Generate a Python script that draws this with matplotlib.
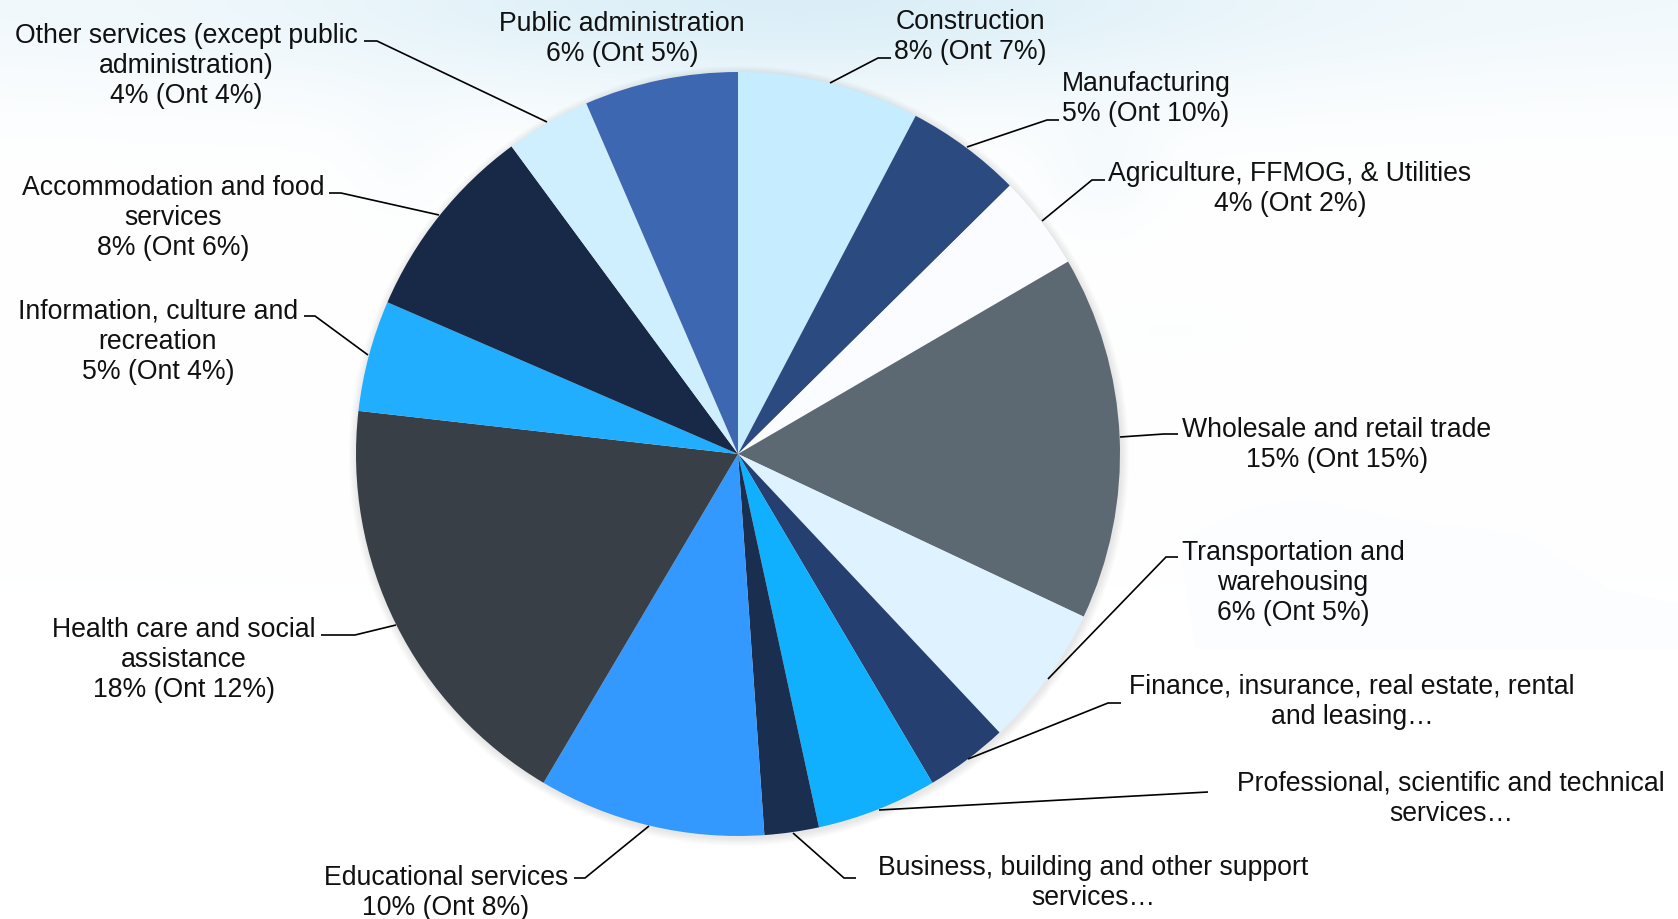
import numpy as np
import matplotlib
matplotlib.use("Agg")
import matplotlib.pyplot as plt
from matplotlib.patches import Circle, Polygon

plt.rcParams['font.family'] = ['Liberation Sans', 'DejaVu Sans']

categories = ["Construction", "Manufacturing", "Agriculture, FFMOG, & Utilities",
              "Wholesale and retail trade", "Transportation and\nwarehousing",
              "Finance, insurance, real estate, rental\nand leasing…",
              "Professional, scientific and technical\nservices…",
              "Business, building and other support\nservices…",
              "Educational services", "Health care and social\nassistance",
              "Information, culture and\nrecreation", "Accommodation and food\nservices",
              "Other services (except public\nadministration)", "Public administration"]
shares = [7.7, 4.9, 4.0, 15.4, 6.0, 3.5, 5.1, 2.3, 9.6, 18.3, 4.7, 8.4, 3.6, 6.5]
value_lines = ["8% (Ont 7%)", "5% (Ont 10%)", "4% (Ont 2%)", "15% (Ont 15%)", "6% (Ont 5%)",
               "", "", "", "10% (Ont 8%)", "18% (Ont 12%)", "5% (Ont 4%)", "8% (Ont 6%)",
               "4% (Ont 4%)", "6% (Ont 5%)"]
colors = ["#C6ECFF", "#2B4A80", "#FBFCFF", "#5D6972", "#DFF2FF", "#253F70", "#10B0FF",
          "#1A2E50", "#3399FF", "#383F47", "#22AEFF", "#182947", "#CFEEFE", "#3D67B0"]

W, H = 1678, 920
CX, CY, R = 738, 455, 382

label_xy = [(970, 37), (1146, 99), (1290, 189), (1337, 445), (1293, 583), (1352, 702),
            (1451, 799), (1093, 883), (446, 893), (184, 660), (158, 342), (173, 218),
            (186, 66), (622, 39)]
leaders = [[(830, 84), (878, 59), (891, 59)],
           [(967, 148), (1047, 121), (1059, 121)],
           [(1042, 222), (1092, 181), (1105, 181)],
           [(1120, 438), (1164, 435), (1178, 435)],
           [(1048, 680), (1166, 558), (1178, 558)],
           [(968, 760), (1108, 704), (1121, 704)],
           [(879, 811), (1208, 793), (1208, 793)],
           [(793, 834), (844, 879), (856, 879)],
           [(649, 827), (585, 879), (574, 879)],
           [(396, 626), (355, 636), (321, 636)],
           [(368, 356), (315, 317), (304, 317)],
           [(439, 216), (341, 194), (329, 194)],
           [(547, 123), (377, 42), (364, 42)]]

fig = plt.figure(figsize=(W / 100, H / 100), dpi=100, facecolor="white")
bg = fig.add_axes([0, 0, 1, 1], zorder=0)
bg.set_xlim(0, W)
bg.set_ylim(H, 0)
bg.axis("off")

# faint map backdrop: soft tinted field
yy, xx = np.mgrid[0:H:2, 0:W:2]
strength = np.exp(-(yy / 100.0) ** 2) * (0.35 + 0.65 * np.exp(-((xx - 800) / 450.0) ** 2))
strength += 0.22 * np.exp(-((xx - 1100) / 60.0) ** 2 - ((yy - 170) / 60.0) ** 2)
strength += 0.12 * np.exp(-((xx - 400) / 50.0) ** 2 - ((yy - 150) / 70.0) ** 2)
strength += 0.06 * np.exp(-((xx - 1170) / 90.0) ** 2 - ((yy - 330) / 30.0) ** 2)
strength = np.clip(strength, 0, 1)
tint = np.array([0.86, 0.935, 0.97])
img = 1 - strength[..., None] * (1 - tint)
bg.imshow(img, extent=(0, W, H, 0), aspect="auto", zorder=0)

land = [(1180, 545), (1240, 510), (1310, 500), (1400, 520), (1520, 535), (1610, 590), (1678, 605),
        (1678, 650), (1195, 650)]
bg.add_patch(Polygon(land, closed=True, fc="#fbfdfe", ec="none", zorder=1))

# soft shadow behind the pie
for k in range(8, 0, -1):
    bg.add_patch(Circle((CX + 1.0, CY + 2.0), R + k * 1.0, fc="black", ec="none", alpha=0.012, zorder=2))

ax = fig.add_axes([(CX - R) / W, 1 - (CY + R) / H, 2 * R / W, 2 * R / H], zorder=1)
ax.patch.set_alpha(0)
ax.pie(shares, colors=colors, startangle=90, counterclock=False, radius=1.0,
       wedgeprops=dict(linewidth=0))
ax.set_xlim(-1, 1)
ax.set_ylim(-1, 1)
ax.set_aspect("auto")

top = fig.add_axes([0, 0, 1, 1], zorder=2)
top.set_xlim(0, W)
top.set_ylim(H, 0)
top.axis("off")
top.patch.set_alpha(0)

for pts in leaders:
    xs, ys = zip(*pts)
    top.plot(xs, ys, color="black", lw=1.2, solid_capstyle="butt", solid_joinstyle="miter")

for name, val, (x, y) in zip(categories, value_lines, label_xy):
    s = name + ("\n" + val if val else "")
    top.text(x, y, s, ha="center", va="center", fontsize=19.2, color="#111111", linespacing=1.2)

fig.savefig("out.png", dpi=100)
